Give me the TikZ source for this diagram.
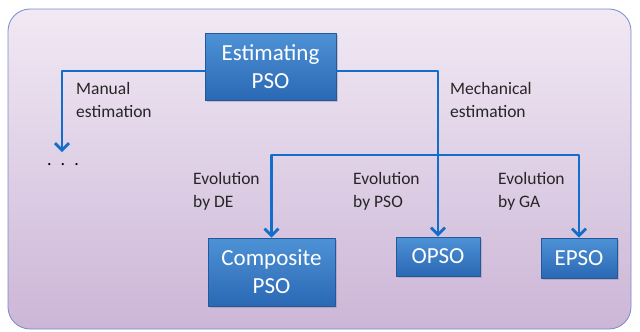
\documentclass[tikz,border=0pt]{standalone}
\usepackage{fontspec}
\setmainfont{Carlito}
\usetikzlibrary{arrows.meta,shadows}
\definecolor{flowblue}{RGB}{18,110,202}
\definecolor{boxtop}{RGB}{78,146,214}
\definecolor{boxbot}{RGB}{42,104,180}
\definecolor{boxline}{RGB}{36,88,156}
\definecolor{bgtop}{RGB}{241,233,244}
\definecolor{bgbot}{RGB}{204,182,215}
\definecolor{bgline}{RGB}{120,138,200}
\tikzset{
  psobox/.style={draw=boxline, line width=0.8pt, top color=boxtop, bottom color=boxbot,
    text=white, font=\fontsize{23}{28}\selectfont, align=center, inner sep=0pt,
    drop shadow={shadow xshift=1.5pt, shadow yshift=-1.5pt, opacity=0.35}},
  flow/.style={draw=flowblue, line width=2.8pt, -{Straight Barb[length=7pt,width=14pt]}},
  lbl/.style={anchor=west, align=left, inner sep=0pt, text=black!85,
    font=\fontsize{17.5}{23}\selectfont}
}
\begin{document}
\begin{tikzpicture}[x=1pt, y=-1pt, line join=round]
    \useasboundingbox (0,0) rectangle (640,332);
    % Background panel
    \draw[bgline, line width=0.8pt, rounded corners=22pt, top color=bgtop, bottom color=bgbot]
        (8,9) rectangle (631,329);

    % Boxes
    \node[psobox, minimum width=131pt, minimum height=67pt] (est) at (270.5,66.5) {Estimating\\PSO};
    \node[psobox, minimum width=127pt, minimum height=68pt] (comp) at (271.5,272) {Composite\\PSO};
    \node[psobox, minimum width=84pt, minimum height=39pt] (opso) at (438,256.5) {OPSO};
    \node[psobox, minimum width=76pt, minimum height=40pt] (epso) at (579,258) {EPSO};

    % Unfinished branch
    \node[font=\fontsize{18}{18}\selectfont, inner sep=0pt] (dots) at (63,165) {.\hspace{9pt}.\hspace{9pt}.};
    \coordinate (manend) at (62,152);

    % Connectors
    \draw[flow] ([yshift=-4.5pt]est.west) -| (manend);
    \draw[flow] ([yshift=-4.5pt]est.east) -| (opso.north);
    \coordinate (split) at (opso.north |- 0,155);
    \draw[flow] (split) -| (comp.north);
    \draw[flow] (split) -| (epso.north);

    % Labels
    \node[lbl] (manual) at (76,100) {Manual\\estimation};
    \node[lbl] (mech) at (450,100) {Mechanical\\estimation};
    \node[lbl] (evde) at (193,191) {Evolution\\by DE};
    \node[lbl] (evpso) at (353,191) {Evolution\\by PSO};
    \node[lbl] (evga) at (498,191) {Evolution\\by GA};
\end{tikzpicture}
\end{document}
